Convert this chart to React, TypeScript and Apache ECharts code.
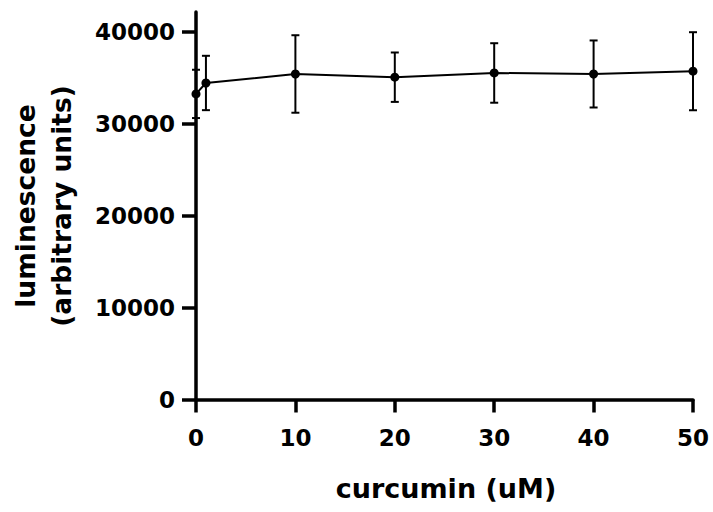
import React, { useEffect, useRef } from "react";
import * as echarts from "echarts";

const concentrations = [0, 1, 10, 20, 30, 40, 50];
const luminescenceMean = [33280, 34470, 35450, 35100, 35560, 35450, 35750];
const luminescenceErr = [2630, 2960, 4220, 2690, 3240, 3650, 4250];
const yTickValues = [0, 10000, 20000, 30000, 40000];
const xTitle = "curcumin (uM)";
const yTitle = "luminescence\n(arbitrary units)";

const FONT = "DejaVu Sans";

export default function App() {
  const ref = useRef<HTMLDivElement>(null);
  useEffect(() => {
    if (!ref.current) return;
    const chart = echarts.init(ref.current, undefined, { renderer: "svg" });
    const lineData = concentrations.map((x, i) => [x, luminescenceMean[i]]);
    const errData = concentrations.map((x, i) => [
      x,
      luminescenceMean[i] - luminescenceErr[i],
      luminescenceMean[i] + luminescenceErr[i],
    ]);
    chart.setOption({
      animation: false,
      backgroundColor: "#fff",
      grid: { left: 196, top: 12, width: 497, height: 387.5 },
      xAxis: {
        type: "value",
        min: 0,
        max: 50,
        interval: 10,
        splitLine: { show: false },
        axisLine: { show: true, lineStyle: { color: "#000", width: 3.5 } },
        axisTick: { show: true, length: 13, lineStyle: { color: "#000", width: 3.5 } },
        axisLabel: {
          color: "#000",
          fontFamily: FONT,
          fontWeight: "bold",
          fontSize: 23,
          margin: 27,
          formatter: (v: number) => String(v),
        },
      },
      yAxis: {
        type: "value",
        min: 0,
        max: 42200,
        splitLine: { show: false },
        axisLine: { show: true, lineStyle: { color: "#000", width: 3.5 } },
        axisTick: {
          show: true,
          length: 14,
          customValues: yTickValues,
          lineStyle: { color: "#000", width: 3.5 },
        },
        axisLabel: {
          color: "#000",
          fontFamily: FONT,
          fontWeight: "bold",
          fontSize: 23,
          margin: 21,
          customValues: yTickValues,
          formatter: (v: number) => String(v),
        },
      },
      graphic: [
        {
          type: "text",
          x: 43,
          y: 206,
          rotation: Math.PI / 2,
          style: {
            text: yTitle,
            fill: "#000",
            font: `bold 26.5px "${FONT}"`,
            align: "center",
            verticalAlign: "middle",
            lineHeight: 36,
          },
        },
        {
          type: "text",
          x: 446,
          y: 488,
          style: {
            text: xTitle,
            fill: "#000",
            font: `bold 27px "${FONT}"`,
            align: "center",
            verticalAlign: "middle",
          },
        },
      ],
      series: [
        {
          type: "custom",
          data: errData,
          z: 3,
          renderItem: (params: any, api: any) => {
            const x = api.value(0);
            const lo = api.coord([x, api.value(1)]);
            const hi = api.coord([x, api.value(2)]);
            const hw = 4;
            const style = { stroke: "#000", lineWidth: 2 };
            return {
              type: "group",
              children: [
                { type: "line", shape: { x1: lo[0], y1: lo[1], x2: hi[0], y2: hi[1] }, style },
                { type: "line", shape: { x1: hi[0] - hw, y1: hi[1], x2: hi[0] + hw, y2: hi[1] }, style },
                { type: "line", shape: { x1: lo[0] - hw, y1: lo[1], x2: lo[0] + hw, y2: lo[1] }, style },
              ],
            };
          },
        },
        {
          type: "line",
          data: lineData,
          z: 4,
          symbol: "circle",
          symbolSize: 9,
          lineStyle: { color: "#000", width: 2 },
          itemStyle: { color: "#000" },
        },
      ],
    });
    return () => chart.dispose();
  }, []);
  return <div ref={ref} style={{ width: 713, height: 512, position: "absolute", left: 0, top: 0 }} />;
}
